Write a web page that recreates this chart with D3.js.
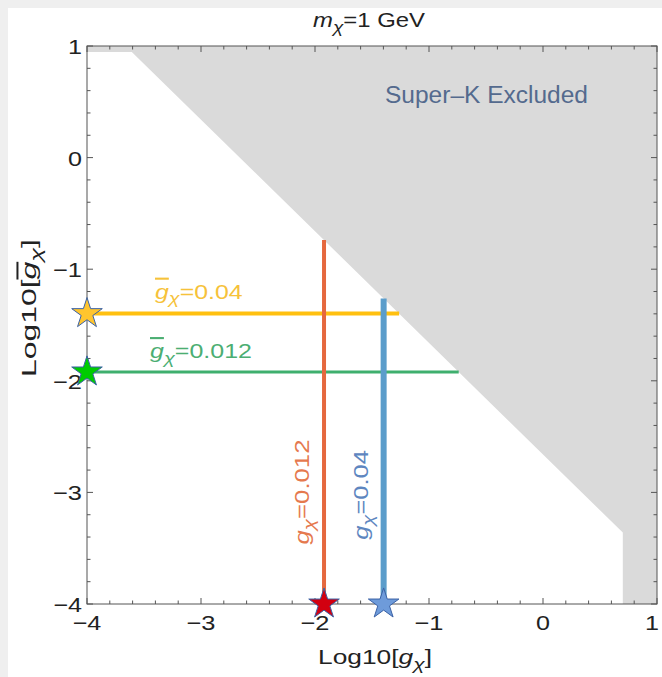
<!DOCTYPE html>
<html><head><meta charset="utf-8">
<script src="https://cdn.jsdelivr.net/npm/d3@7"></script>
<style>
html,body{margin:0;padding:0;background:#efefef;}
svg{display:block;font-family:"Liberation Sans",Arial,sans-serif;}
</style></head>
<body>
<svg id="chart" width="662" height="677"></svg>
<script>
// ---- data ----
const xDomain = [-4, 1];
const yDomain = [-4, 1];
const majorTicks = [-4, -3, -2, -1, 0, 1];
const tickLabels = ["\u22124", "\u22123", "\u22122", "\u22121", "0", "1"];
// Super-K excluded region boundary (log10 g, log10 gbar)
const excludedX = [-4, -4, -3.607, 0.70, 0.70, 1, 1];
const excludedY = [1, 0.946, 0.947, -3.36, -4, -4, 1];
const boundarySum = -2.66; // diagonal edge: x + y = const
// coupling lines
const hValues = [0.04, 0.012];           // gbar (horizontal lines)
const hLabels = ["0.04", "0.012"];
const vValues = [0.012, 0.04];           // g (vertical lines)
const vLabels = ["0.012", "0.04"];

// styles
const hStyle = [
  {color: "#FFC010", text: "#F6C23A", width: 4, star: "#FFC52E"},
  {color: "#3FAF6E", text: "#4BAE72", width: 3, star: "#00CC00"}
];
const vStyle = [
  {color: "#E5683E", text: "#E5794E", width: 4, star: "#D20010"},
  {color: "#5B9DCB", text: "#5E86C0", width: 6, star: "#6E9BDA"}
];

// ---- layout ----
const svg = d3.select("#chart");
svg.append("rect").attr("x", 8).attr("y", 8).attr("width", 654).attr("height", 669).attr("fill", "#fff");
const L = 87, R = 657, T = 46, B = 604;
const x = d3.scaleLinear().domain(xDomain).range([L, R]);
const y = d3.scaleLinear().domain(yDomain).range([B, T]);

// text helper: parts = [{t, it, sub, over}]
function makeText(parts, o) {
  const g = svg.append("g");
  const t = g.append("text").attr("x", 0).attr("y", 0)
    .attr("text-anchor", o.anchor || "middle").attr("font-size", o.size).attr("fill", o.fill);
  let sub = false;
  parts.forEach(p => {
    const s = t.append("tspan").text(p.t);
    if (p.it) s.attr("font-style", "italic");
    if (p.over) s.attr("text-decoration", "overline");
    if (p.sub && !sub) { s.attr("dy", o.size * 0.28).attr("font-size", o.size * 0.8); sub = true; }
    else if (!p.sub && sub) { s.attr("dy", -o.size * 0.28); sub = false; }
    else if (p.sub) s.attr("font-size", o.size * 0.8);
  });
  let sx = 1;
  if (o.width) { const w = t.node().getBBox().width; sx = o.width / w; }
  g.attr("transform", `translate(${o.x},${o.y})` + (o.rotate ? ` rotate(${o.rotate})` : "") + ` scale(${sx},1)`);
  return g;
}

// excluded region
const pts = excludedX.map((v, i) => [x(v), y(excludedY[i])]);
svg.append("path").attr("d", d3.line()(pts) + "Z").attr("fill", "#dadada");

makeText([{t: "Super\u2013K Excluded"}], {x: 486.5, y: 103, size: 24, fill: "#546a8e", width: 203});

// lines
hValues.forEach((v, i) => {
  const yv = Math.log10(v);
  svg.append("line").attr("x1", x(-4)).attr("x2", x(boundarySum - yv))
    .attr("y1", y(yv)).attr("y2", y(yv)).attr("stroke", hStyle[i].color).attr("stroke-width", hStyle[i].width);
});
vValues.forEach((v, i) => {
  const xv = Math.log10(v);
  svg.append("line").attr("x1", x(xv)).attr("x2", x(xv))
    .attr("y1", y(-4)).attr("y2", y(boundarySum - xv)).attr("stroke", vStyle[i].color).attr("stroke-width", vStyle[i].width);
});

// horizontal labels
const hPos = [{x: 155, dy: -15, w: 88}, {x: 150, dy: -14, w: 102}];
hValues.forEach((v, i) => {
  makeText([{t: "g", it: true, over: true}, {t: "\u03c7", it: true, sub: true}, {t: "=" + hLabels[i]}],
    {x: hPos[i].x, y: y(Math.log10(v)) + hPos[i].dy, anchor: "start", size: 21, fill: hStyle[i].text, width: hPos[i].w});
});
// vertical labels
const vPos = [{dx: -15, cy: 492, w: 105}, {dx: -16, cy: 495, w: 90}];
vValues.forEach((v, i) => {
  makeText([{t: "g", it: true}, {t: "\u03c7", it: true, sub: true}, {t: "=" + vLabels[i]}],
    {x: x(Math.log10(v)) + vPos[i].dx, y: vPos[i].cy, rotate: -90, size: 21, fill: vStyle[i].text, width: vPos[i].w});
});

// frame + ticks
const frame = svg.append("g").attr("stroke", "#555").attr("stroke-width", 1);
frame.append("rect").attr("x", L).attr("y", T).attr("width", R - L).attr("height", B - T).attr("fill", "none");
const minor = d3.range(-4, 1.0001, 0.2).map(v => +v.toFixed(2));
minor.forEach(v => {
  const isMajor = Math.abs(v - Math.round(v)) < 1e-6;
  const len = isMajor ? 6 : 3.5;
  frame.append("line").attr("x1", x(v)).attr("x2", x(v)).attr("y1", B).attr("y2", B - len);
  frame.append("line").attr("x1", x(v)).attr("x2", x(v)).attr("y1", T).attr("y2", T + len);
  frame.append("line").attr("y1", y(v)).attr("y2", y(v)).attr("x1", L).attr("x2", L + len);
  frame.append("line").attr("y1", y(v)).attr("y2", y(v)).attr("x1", R).attr("x2", R - len);
});
majorTicks.forEach((v, i) => {
  makeText([{t: tickLabels[i]}], {x: Math.min(x(v), 652), y: B + 26, size: 21, fill: "#222", width: tickLabels[i].length > 1 ? 29 : 14});
  makeText([{t: tickLabels[i]}], {x: L - 5, y: y(v) + 8, anchor: "end", size: 21, fill: "#222", width: tickLabels[i].length > 1 ? 29 : 14});
});

// stars
const star = d3.symbol().type(d3.symbolStar).size(290);
hValues.forEach((v, i) => {
  svg.append("path").attr("d", star()).attr("transform", `translate(${x(-4)},${y(Math.log10(v))})`)
    .attr("fill", hStyle[i].star).attr("stroke", "#3b62a6").attr("stroke-width", 1);
});
vValues.forEach((v, i) => {
  svg.append("path").attr("d", star()).attr("transform", `translate(${x(Math.log10(v))},${y(-4)})`)
    .attr("fill", vStyle[i].star).attr("stroke", "#3b62a6").attr("stroke-width", 1);
});

// titles
makeText([{t: "m", it: true}, {t: "\u03c7", it: true, sub: true}, {t: "=1 GeV"}],
  {x: 369, y: 27, size: 21, fill: "#222", width: 112});
makeText([{t: "Log10["}, {t: "g", it: true}, {t: "\u03c7", it: true, sub: true}, {t: "]"}],
  {x: 375, y: 664, size: 20, fill: "#222", width: 114});
makeText([{t: "Log10["}, {t: "g", it: true, over: true}, {t: "\u03c7", it: true, sub: true}, {t: "]"}],
  {x: 36, y: 308, rotate: -90, size: 20, fill: "#222", width: 138});
</script>
</body></html>
